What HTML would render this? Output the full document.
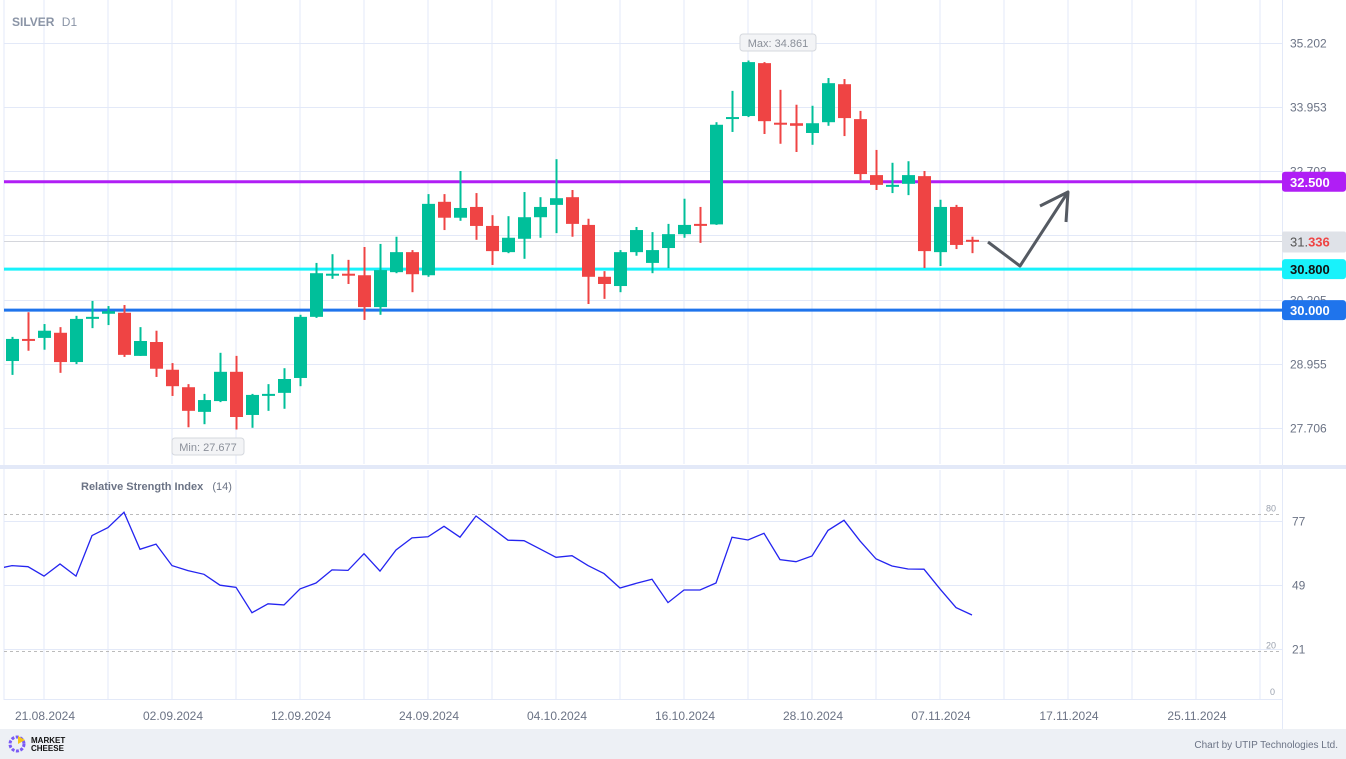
<!DOCTYPE html>
<html><head><meta charset="utf-8"><style>
html,body{margin:0;padding:0;background:#fff;}
svg{display:block;font-family:"Liberation Sans",Arial,sans-serif;}
</style></head><body>
<svg id="chart" width="1346" height="759" viewBox="0 0 1346 759" xmlns="http://www.w3.org/2000/svg">
<rect x="0" y="0" width="1346" height="759" fill="#fff"/>
<g id="grid"></g>
<g id="levels"></g>
<g id="candles"></g>
<g id="rsi"></g>
<g id="labels"></g>
</svg>
<script>
const ns = "http://www.w3.org/2000/svg";
const opens  = [29.01,29.44,29.46,29.56,28.99,29.86,29.93,29.95,29.11,29.38,28.84,28.50,28.02,28.23,28.80,27.96,28.36,28.39,28.68,29.87,30.70,30.71,30.68,30.06,30.74,31.13,30.68,32.11,31.80,32.01,31.64,31.13,31.39,31.81,32.05,32.20,31.66,30.65,30.47,31.13,30.92,31.21,31.48,31.68,31.67,33.75,33.78,34.81,33.65,33.64,33.45,33.66,34.40,33.72,32.63,32.43,32.46,32.61,31.13,32.01,31.37];
const highs  = [29.48,29.96,29.73,29.67,29.89,30.18,30.08,30.10,29.67,29.60,28.97,28.56,28.37,29.17,29.11,28.37,28.56,28.87,29.91,30.92,31.09,30.98,31.23,31.29,31.43,31.17,32.26,32.26,32.71,32.28,31.85,31.83,32.30,32.20,32.94,32.34,31.78,30.76,31.17,31.62,31.52,31.68,32.17,32.01,33.66,34.27,34.861,34.83,34.29,34.00,33.98,34.52,34.50,33.88,33.12,32.87,32.90,32.71,32.15,32.05,31.43];
const lows   = [28.74,29.21,29.23,28.78,28.95,29.65,29.71,29.09,29.11,28.70,28.33,27.72,27.78,28.21,27.677,27.71,28.04,28.08,28.52,29.85,30.61,30.51,29.81,29.91,30.72,30.35,30.65,31.56,31.74,31.37,30.88,31.11,31.00,31.41,31.50,31.43,30.12,30.22,30.35,31.06,30.72,30.82,31.41,31.31,31.66,33.47,33.76,33.43,33.24,33.08,33.22,33.59,33.39,32.53,32.34,32.28,32.24,30.82,30.86,31.19,31.11];
const closes = [29.44,29.43,29.60,28.99,29.83,29.87,29.98,29.13,29.40,28.86,28.52,28.04,28.25,28.80,27.92,28.35,28.37,28.66,29.87,30.72,30.71,30.70,30.06,30.78,31.13,30.70,32.07,31.80,31.99,31.64,31.15,31.41,31.81,32.01,32.18,31.68,30.65,30.51,31.13,31.56,31.17,31.48,31.66,31.67,33.61,33.76,34.83,33.68,33.64,33.59,33.64,34.42,33.74,32.65,32.44,32.44,32.63,31.15,32.01,31.27,31.336];
const rsiValues = [56.0,57.5,57.0,52.9,58.2,52.9,70.6,74.1,80.8,64.6,66.9,57.5,55.3,53.7,48.9,48.0,36.9,40.8,40.3,47.3,49.9,55.6,55.4,62.7,55.1,64.3,69.6,70.1,74.7,69.9,79.2,73.9,68.6,68.4,64.8,61.1,61.8,57.5,54.0,47.7,49.7,51.5,41.3,46.8,46.8,49.9,69.9,68.7,71.6,60.1,59.2,61.7,72.9,77.3,68.3,60.4,57.3,56.0,55.9,47.3,39.1,35.9];
const priceTicks = ["35.202","33.953","32.703","31.454","30.205","28.955","27.706"];
const levelPrices = [32.5,30.8,30.0];
const levelLabels = ["32.500","30.800","30.000"];
const dateLabels = ["21.08.2024","02.09.2024","12.09.2024","24.09.2024","04.10.2024","16.10.2024","28.10.2024","07.11.2024","17.11.2024","25.11.2024"];
const rsiTicks = [77,49,21];
const lastPrice = 31.336;

const xOf = i => 12 + i*16;
const yP = p => 43 + (35.202 - p) * 51.36;
const yR = v => 521 + (77 - v) * 2.286;

function mk(tag, attrs, parent){const e=document.createElementNS(ns,tag);for(const k in attrs)e.setAttribute(k,attrs[k]);parent.appendChild(e);return e;}
const G = document.getElementById('grid'), L = document.getElementById('levels'), C = document.getElementById('candles'), R = document.getElementById('rsi'), T = document.getElementById('labels');

// grid
for(let k=0;k<20;k++){const x=44+64*k; if(x>1280)break;
  const v=mk('line',{x1:x,y1:0,x2:x,y2:464,stroke:'#e3e9f8','stroke-width':1},G);
  
  
  const v2=mk('line',{x1:x,y1:470,x2:x,y2:700,stroke:'#e3e9f8','stroke-width':1},G);
  
  }
mk('line',{x1:4,y1:0,x2:4,y2:700,stroke:'#e3e9f8'},G);
priceTicks.forEach((t,i)=>{const y=Math.round(yP(parseFloat(t)))+0.5;
  const h=mk('line',{x1:4,y1:y,x2:1282,y2:y,stroke:'#e3e9f8'},G);
  
  
  if(Math.abs(parseFloat(t)-lastPrice)<0.3) return;
  const tx=mk('text',{x:1290,y:y+4,fill:'#6b7385','font-size':12},T);tx.textContent=t;
  
  });
rsiTicks.forEach(v=>{const y=Math.round(yR(v))+0.5;
  const h=mk('line',{x1:4,y1:y,x2:1282,y2:y,stroke:'#e3e9f8'},G);
  
  
  const tx=mk('text',{x:1292,y:y+4,fill:'#6b7385','font-size':12},T);tx.textContent=v;
  
  });
mk('line',{x1:4,y1:699.5,x2:1282,y2:699.5,stroke:'#e3e9f8'},G);
mk('line',{x1:1282.5,y1:0,x2:1282.5,y2:729,stroke:'#e3e9f8'},G);
mk('rect',{x:0,y:465,width:1346,height:4,fill:'#e3e9f8'},G);
[[80,'80'],[20,'20']].forEach(([v,t])=>{const y=Math.round(yR(v))+0.5;
  const d=mk('line',{x1:4,y1:y,x2:1282,y2:y,stroke:'#bbb','stroke-dasharray':'3,3'},G);
  
  
  const tx=mk('text',{x:1266,y:y-3,fill:'#9aa1ae','font-size':9},T);tx.textContent=t;});
{const tx=mk('text',{x:1270,y:695,fill:'#9aa1ae','font-size':9},T);tx.textContent='0';}

// current price line
{const y=Math.round(yP(lastPrice))-0.5;mk('line',{x1:4,y1:y,x2:1282,y2:y,stroke:'#d4d6dc'},L);}

// levels
const levelColors=['#b01ef5','#18f2fb','#1f74ec'];
const levelText=['#fff','#111','#fff'];
levelPrices.forEach((p,i)=>{const y=yP(p);
  const l=mk('line',{x1:4,y1:y,x2:1282,y2:y,stroke:levelColors[i],'stroke-width':3},L);
  
  
  const b=mk('rect',{x:1282,y:y-10,width:64,height:20,rx:3,fill:levelColors[i]},T);
  
  
  const tx=mk('text',{x:1290,y:y+5,fill:levelText[i],'font-size':13,'font-weight':'bold'},T);tx.textContent=levelLabels[i];});

// last price label
{const y=yP(lastPrice);
 const b=mk('rect',{x:1282,y:y-10,width:64,height:21,rx:2,fill:'#dfe2e8'},T);
 
 
 const tx=mk('text',{x:1290,y:y+5,'font-size':13,fill:'#555'},T);
 tx.innerHTML='31.<tspan fill="#ef4444" font-weight="bold">336</tspan>';}

// candles
opens.forEach((o,i)=>{const c=closes[i],x=xOf(i);const up=c>=o;const col=up?'#00bf9a':'#ef4444';
  const w=mk('line',{x1:x+0.5,y1:yP(highs[i]),x2:x+0.5,y2:yP(lows[i]),stroke:col,'stroke-width':2},C);
  
  
  const top=yP(Math.max(o,c)),bot=yP(Math.min(o,c));
  const b=mk('rect',{x:x-6,y:top,width:13,height:Math.max(2,bot-top),fill:col},C);
  
  });

// max/min labels
function tag(txt,x,y,w){const g=mk('g',{},T);
  mk('rect',{x:x,y:y,width:w,height:17,rx:3,fill:'#f3f4f6',stroke:'#d5d8de'},g);
  const t=mk('text',{x:x+w/2,y:y+13,'text-anchor':'middle','font-size':11,fill:'#8a8f99'},g);t.textContent=txt;return g;}
{const maxI=highs.indexOf(Math.max(...highs));const g=tag('Max: '+Math.max(...highs).toFixed(3),xOf(maxI)-8,34,76);
 
 
 const minI=lows.indexOf(Math.min(...lows));const g2=tag('Min: '+Math.min(...lows).toFixed(3),xOf(minI)-64,438,72);
 
 }

// arrow
{const a=mk('polyline',{points:'988,242 1020,266 1068,192',fill:'none',stroke:'#555a62','stroke-width':3,'stroke-linejoin':'round'},T);
 
 
 mk('polyline',{points:'1040,206 1068,192 1066,222',fill:'none',stroke:'#555a62','stroke-width':3,'stroke-linejoin':'round'},T);}

// rsi line
{const clip=mk('clipPath',{id:'rc'},R);mk('rect',{x:4,y:470,width:1278,height:230},clip);
 const pts=rsiValues.map((v,i)=>xOf(i-1)+','+yR(v).toFixed(1)).join(' ');
 const pl=mk('polyline',{points:pts,fill:'none',stroke:'#2424f0','stroke-width':1.3,'clip-path':'url(#rc)'},R);
 
 
 const t=mk('text',{x:81,y:490,'font-size':11,fill:'#6b7385','font-weight':'bold'},R);
 t.innerHTML='Relative Strength Index <tspan font-weight="normal" dx="6">(14)</tspan>';
 
 }

// dates
dateLabels.forEach((d,k)=>{const t=mk('text',{x:45+128*k,y:720,'text-anchor':'middle','font-size':12,fill:'#6b7385'},T);t.textContent=d;
  
  });

// title
{const t=mk('text',{x:12,y:26,'font-size':12,fill:'#8a94a6','font-weight':'bold'},T);t.innerHTML='SILVER <tspan font-weight="normal" dx="4">D1</tspan>';
 
 }

// footer
{const f=mk('rect',{x:0,y:729,width:1346,height:30,fill:'#edf0f5'},T);
 
 
 mk('circle',{cx:17,cy:744,r:7,fill:'none',stroke:'#7a5af5','stroke-width':3,'stroke-dasharray':'3,1.5'},T);
 mk('path',{d:'M18 736 L25 740 L18 744 Z',fill:'#f5c518'},T);
 const l1=mk('text',{x:31,y:743,'font-size':8,'font-weight':'bold',fill:'#111'},T);l1.textContent='MARKET';
 const l2=mk('text',{x:31,y:751,'font-size':8,'font-weight':'bold',fill:'#111'},T);l2.textContent='CHEESE';
 
 
 const c=mk('text',{x:1338,y:748,'text-anchor':'end','font-size':10,fill:'#6b7385'},T);c.textContent='Chart by UTIP Technologies Ltd.';
 
 }
</script>
</body></html>
